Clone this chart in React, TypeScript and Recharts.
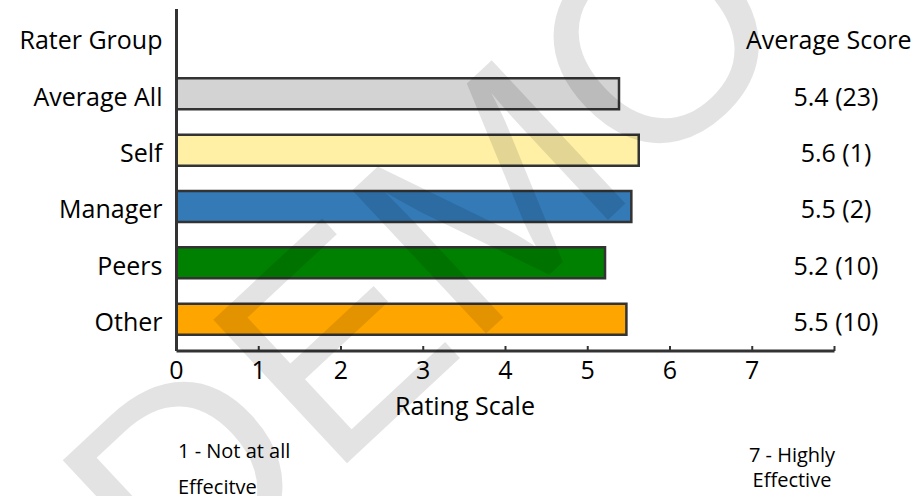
import React from 'react'
import { BarChart, Bar, XAxis, YAxis, Cell } from 'recharts'

// ── Data ──────────────────────────────────────────────────────────────────────

// first row is the header line of the table ("Rater Group" / "Average Score")
const GROUPS       = ['Rater Group', 'Average All', 'Self', 'Manager', 'Peers', 'Other']
const SCORES       = [null, 5.38, 5.62, 5.53, 5.21, 5.47]
const SCORE_LABELS = ['Average Score', '5.4 (23)', '5.6 (1)', '5.5 (2)', '5.2 (10)', '5.5 (10)']

const X_TICKS       = [0, 1, 2, 3, 4, 5, 6, 7, 8]
const X_TICK_LABELS = ['0', '1', '2', '3', '4', '5', '6', '7', '']
const X_TITLE       = 'Rating Scale'

const NOTE_LOW  = ['1 - Not at all', 'Effecitve']
const NOTE_HIGH = ['7 - Highly', 'Effective']
const WATERMARK = 'DEMO'

const BAR_COLORS = ['none', '#d3d3d3', '#fff0a6', '#337ab7', '#008000', '#ffa500']

const data = GROUPS.map((group, i) => ({
  group,
  score:      SCORES[i],
  scoreLabel: SCORE_LABELS[i],
}))

// ── Styles ────────────────────────────────────────────────────────────────────

const FONT = '"Open Sans", Lato, sans-serif'
const INK  = '#000'
const AXIS = '#333'

const W = 915
const H = 496

// ── Ticks ─────────────────────────────────────────────────────────────────────

function GroupTick({ x, y, payload }: any) {
  return (
    <text x={x} y={y} dy={12} textAnchor="end" fontFamily={FONT} fontSize={25} fill={INK}>
      {payload.value}
    </text>
  )
}

function ScoreTick({ x, y, payload }: any) {
  const header = payload.value === SCORE_LABELS[0]
  return (
    <text
      x={header ? x + 77 : x + 1.5}
      y={y}
      dy={12}
      textAnchor={header ? 'end' : 'middle'}
      fontFamily={FONT}
      fontSize={25}
      fill={INK}
    >
      {payload.value}
    </text>
  )
}

function RatingTick({ x, y, payload }: any) {
  const label = X_TICK_LABELS[X_TICKS.indexOf(payload.value)]
  return (
    <g>
      <line x1={x} x2={x} y1={y - 5} y2={y} stroke={AXIS} strokeWidth={2} />
      {label && (
        <text x={x} y={y + 28} textAnchor="middle" fontFamily={FONT} fontSize={25} fill={INK}>
          {label}
        </text>
      )}
    </g>
  )
}

// ── Chart ─────────────────────────────────────────────────────────────────────

export default function App() {
  return (
    <div style={{ position: 'absolute', left: 0, top: 0, width: W, height: H, background: '#fff' }}>
      <BarChart
        width={W}
        height={H}
        data={data}
        layout="vertical"
        margin={{ top: 9, right: 0, bottom: 105, left: 0 }}
      >
        <XAxis
          type="number"
          domain={[0, 8]}
          ticks={X_TICKS}
          interval={0}
          height={40}
          tickSize={0}
          tickMargin={0}
          tick={<RatingTick />}
          axisLine={{ stroke: AXIS, strokeWidth: 3 }}
          tickLine={false}
        />
        <YAxis
          yAxisId="left"
          type="category"
          dataKey="group"
          width={176.5}
          padding={{ top: 0, bottom: 4 }}
          tickSize={0}
          tickMargin={14}
          tick={<GroupTick />}
          axisLine={{ stroke: AXIS, strokeWidth: 3 }}
          tickLine={false}
          interval={0}
        />
        <YAxis
          yAxisId="right"
          orientation="right"
          type="category"
          dataKey="scoreLabel"
          width={80.5}
          padding={{ top: 0, bottom: 4 }}
          tickSize={0}
          tickMargin={0}
          tick={<ScoreTick />}
          axisLine={false}
          tickLine={false}
          interval={0}
        />
        <Bar
          yAxisId="left"
          dataKey="score"
          barSize={31}
          stroke={AXIS}
          strokeWidth={2.5}
          isAnimationActive={false}
        >
          {data.map((d, i) => (
            <Cell key={d.group} fill={BAR_COLORS[i]} />
          ))}
        </Bar>
      </BarChart>

      {/* axis title, scale notes and the DEMO watermark sit on top of the plot */}
      <svg
        width={W}
        height={H}
        style={{ position: 'absolute', left: 0, top: 0, pointerEvents: 'none' }}
      >
        <text x={465} y={415} textAnchor="middle" fontFamily={FONT} fontSize={25} fill={INK}>
          {X_TITLE}
        </text>
        <text x={178} y={458} fontFamily={FONT} fontSize={20} fill={INK}>{NOTE_LOW[0]}</text>
        <text x={178} y={494} fontFamily={FONT} fontSize={20} fill={INK}>{NOTE_LOW[1]}</text>
        <text x={792} y={462} textAnchor="middle" fontFamily={FONT} fontSize={20} fill={INK}>{NOTE_HIGH[0]}</text>
        <text x={792} y={487} textAnchor="middle" fontFamily={FONT} fontSize={20} fill={INK}>{NOTE_HIGH[1]}</text>
        <text
          x={492}
          y={328}
          transform="rotate(-43 492 328)"
          textAnchor="middle"
          fontFamily='"Liberation Sans", Arial, sans-serif'
          fontSize={285}
          fill="rgba(0,0,0,0.11)"
        >
          {WATERMARK}
        </text>
      </svg>
    </div>
  )
}
